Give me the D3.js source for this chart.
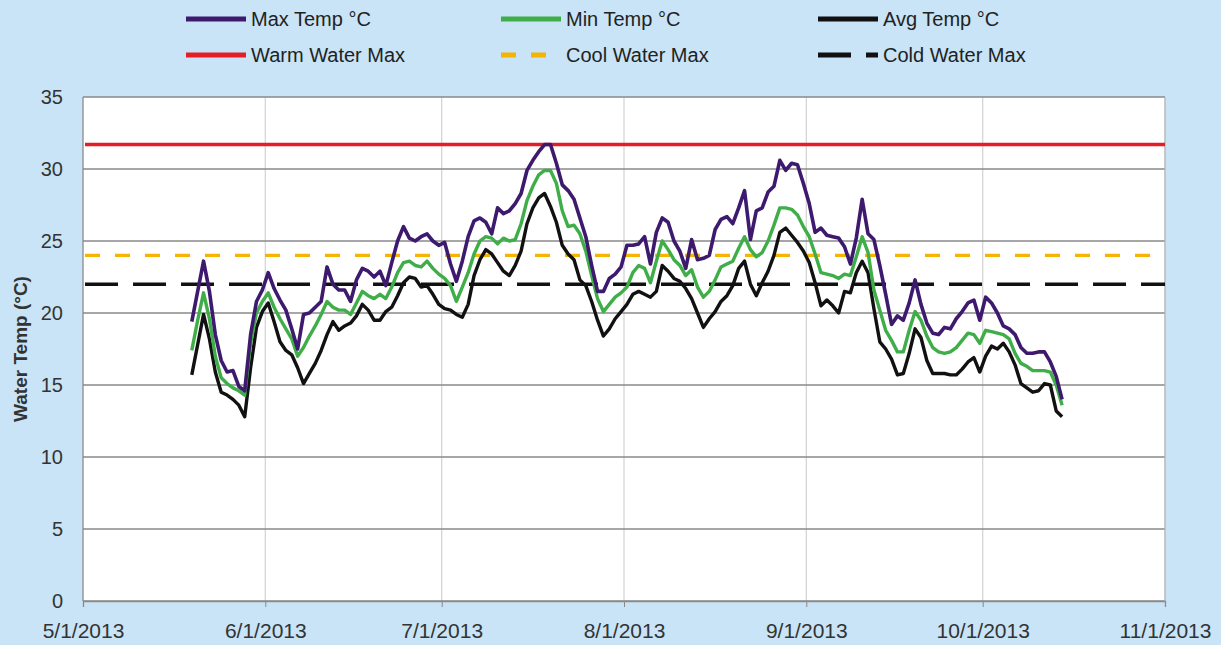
<!DOCTYPE html>
<html><head><meta charset="utf-8">
<script src="https://cdn.jsdelivr.net/npm/d3@7"></script>
<style>
html,body{margin:0;padding:0;background:#c8e4f6;overflow:hidden;}
svg{display:block;font-family:"Liberation Sans",Arial,sans-serif;}
</style>
</head><body>
<svg id="chart" width="1221" height="645"></svg>
<script>
// ---- data ----
const startDate = "2013-05-19"; // first daily reading
const maxTemp = [19.4,21.5,23.6,21.5,18.5,16.7,15.9,16.0,14.9,14.6,18.5,20.8,21.6,22.8,21.7,20.9,20.2,18.9,17.5,19.9,
  20.0,20.4,20.8,23.2,22.0,21.6,21.6,20.8,22.3,23.1,22.9,22.5,22.9,21.9,23.5,25.0,26.0,25.2,25.0,25.3,
  25.5,25.0,24.7,24.9,23.4,22.2,23.6,25.3,26.4,26.6,26.3,25.5,27.3,26.9,27.1,27.6,28.3,29.9,30.6,31.2,
  31.7,31.7,30.4,28.9,28.5,27.9,26.6,25.3,23.3,21.5,21.5,22.4,22.7,23.2,24.7,24.7,24.8,25.3,23.4,25.6,
  26.6,26.3,25.0,24.3,23.1,25.1,23.7,23.8,24.0,25.8,26.5,26.7,26.2,27.3,28.5,25.1,27.1,27.3,28.4,28.8,
  30.6,29.9,30.4,30.3,29.0,27.6,25.6,25.9,25.4,25.3,25.2,24.6,23.4,25.2,27.9,25.5,25.1,23.3,21.3,19.2,
  19.8,19.5,20.7,22.3,20.6,19.3,18.6,18.5,19.0,18.9,19.6,20.1,20.7,20.9,19.5,21.1,20.7,20.0,19.1,18.9,
  18.5,17.6,17.2,17.2,17.3,17.3,16.6,15.6,14.0];
const minTemp = [17.4,19.5,21.4,19.6,17.0,15.5,15.1,14.8,14.6,14.3,17.9,20.0,20.8,21.4,20.4,19.6,18.9,18.2,17.0,17.6,
  18.4,19.1,19.9,20.8,20.4,20.2,20.2,19.9,20.7,21.5,21.2,21.0,21.3,21.0,21.8,22.8,23.5,23.6,23.3,23.2,
  23.6,23.1,22.7,22.4,21.9,20.8,21.8,22.8,24.1,25.0,25.3,25.2,24.8,25.2,25.0,25.1,26.2,27.8,28.8,29.6,
  29.9,29.9,29.0,27.1,26.0,26.1,25.5,24.3,22.6,21.0,20.1,20.6,21.1,21.4,21.8,22.8,23.3,23.1,22.1,23.6,
  25.0,24.4,23.7,23.3,22.6,23.0,21.8,21.1,21.5,22.3,23.2,23.4,23.6,24.5,25.3,24.4,23.9,24.2,25.0,26.1,
  27.3,27.3,27.2,26.8,26.0,25.3,24.1,22.8,22.7,22.6,22.4,22.7,22.6,23.9,25.3,24.2,21.6,20.2,18.8,18.1,
  17.3,17.3,18.8,20.1,19.5,18.4,17.6,17.3,17.2,17.3,17.6,18.1,18.6,18.5,17.9,18.8,18.7,18.6,18.5,18.2,
  17.2,16.5,16.3,16.0,16.0,16.0,15.9,15.0,13.6];
const avgTemp = [15.7,17.8,19.9,18.2,15.9,14.5,14.3,14.0,13.6,12.8,16.2,19.0,20.1,20.7,19.4,18.0,17.4,17.1,16.2,15.1,
  15.8,16.5,17.4,18.5,19.4,18.8,19.1,19.3,19.8,20.6,20.2,19.5,19.5,20.1,20.4,21.2,22.1,22.5,22.4,21.8,
  21.9,21.3,20.6,20.3,20.2,19.9,19.7,20.6,22.6,23.7,24.4,24.1,23.5,22.9,22.6,23.3,24.3,26.2,27.3,28.0,
  28.3,27.4,26.3,24.7,24.1,23.7,22.3,21.9,20.8,19.5,18.4,18.9,19.6,20.1,20.6,21.3,21.5,21.3,21.1,21.5,
  23.3,22.9,22.4,22.2,21.7,21.0,20.0,19.0,19.6,20.1,20.8,21.2,21.9,23.1,23.6,22.0,21.2,22.1,22.9,24.0,
  25.6,25.9,25.4,24.9,24.3,23.5,22.1,20.5,20.9,20.5,20.0,21.5,21.4,22.8,23.6,22.8,20.3,18.0,17.5,16.8,
  15.7,15.8,17.2,18.9,18.3,16.7,15.8,15.8,15.8,15.7,15.7,16.1,16.6,16.9,15.9,17.0,17.7,17.5,17.9,17.3,
  16.4,15.1,14.8,14.5,14.6,15.1,15.0,13.2,12.8];
const thresholdNames = ["Warm Water Max","Cool Water Max","Cold Water Max"];
const thresholdValues = [31.7, 24.0, 22.0];
const yTickValues = [0,5,10,15,20,25,30,35];
const xTickLabels = ["5/1/2013","6/1/2013","7/1/2013","8/1/2013","9/1/2013","10/1/2013","11/1/2013"];
const seriesNames = ["Max Temp °C","Min Temp °C","Avg Temp °C"];

// ---- layout ----
const W = 1221, H = 645;
const plot = {left: 83, right: 1165, top: 97, bottom: 601};
const svg = d3.select("#chart");

const parseMDY = d3.timeParse("%m/%d/%Y");
const tickDates = xTickLabels.map(parseMDY);
const x = d3.scaleTime().domain([tickDates[0], tickDates[tickDates.length-1]]).range([plot.left, plot.right]);
const y = d3.scaleLinear().domain([0, 35]).range([plot.bottom, plot.top]);

const start = d3.timeParse("%Y-%m-%d")(startDate);
const dateAt = i => d3.timeHour.offset(d3.timeDay.offset(start, i), 12);

// plot background
svg.append("rect").attr("x", plot.left).attr("y", plot.top)
  .attr("width", plot.right - plot.left).attr("height", plot.bottom - plot.top)
  .attr("fill", "#ffffff");

// vertical gridlines (months)
svg.append("g").selectAll("line").data(tickDates.slice(1)).join("line")
  .attr("x1", d => x(d)).attr("x2", d => x(d))
  .attr("y1", plot.top).attr("y2", plot.bottom)
  .attr("stroke", "#d2d2d2").attr("stroke-width", 1.2);

// horizontal gridlines
svg.append("g").selectAll("line").data(yTickValues).join("line")
  .attr("x1", plot.left).attr("x2", plot.right)
  .attr("y1", d => y(d)).attr("y2", d => y(d))
  .attr("stroke", "#8a8a8a").attr("stroke-width", 1.3);

// plot border left/right
svg.append("line").attr("x1", plot.left).attr("x2", plot.left).attr("y1", plot.top).attr("y2", plot.bottom)
  .attr("stroke", "#8a8a8a").attr("stroke-width", 1.3);
svg.append("line").attr("x1", plot.right).attr("x2", plot.right).attr("y1", plot.top).attr("y2", plot.bottom)
  .attr("stroke", "#b8b8b8").attr("stroke-width", 1.2);

// axes via d3
const yAxis = d3.axisLeft(y).tickValues(yTickValues).tickSize(0).tickPadding(20);
const gy = svg.append("g").attr("transform", `translate(${plot.left},0)`).call(yAxis);
gy.select(".domain").remove();
gy.selectAll("text").attr("font-size", 20).attr("fill", "#333").attr("font-family", "'Liberation Sans',Arial,sans-serif");

const xAxis = d3.axisBottom(x).tickValues(tickDates).tickSize(6).tickPadding(16)
  .tickFormat((d, i) => xTickLabels[i]);
const gx = svg.append("g").attr("transform", `translate(0,${plot.bottom})`).call(xAxis);
gx.select(".domain").attr("stroke", "#8a8a8a").attr("stroke-width", 1.3);
gx.selectAll(".tick line").attr("stroke", "#8a8a8a");
gx.selectAll("text").attr("font-size", 21).attr("fill", "#333").attr("font-family", "'Liberation Sans',Arial,sans-serif");

// y title
svg.append("text").attr("transform", `translate(27,${(plot.top+plot.bottom)/2}) rotate(-90)`)
  .attr("text-anchor", "middle").attr("font-size", 19).attr("font-weight", "bold").attr("fill", "#333")
  .text("Water Temp (°C)");

// threshold lines
const thrStyles = [
  {color: "#e41e26", width: 3.5, dash: null},
  {color: "#f5b400", width: 3.2, dash: "15,15"},
  {color: "#111111", width: 3.6, dash: "33,15"}
];
thresholdValues.forEach((v, i) => {
  svg.append("line").attr("x1", plot.left + 2).attr("x2", plot.right)
    .attr("y1", y(v)).attr("y2", y(v))
    .attr("stroke", thrStyles[i].color).attr("stroke-width", thrStyles[i].width)
    .attr("stroke-dasharray", thrStyles[i].dash);
});

// data lines
const seriesStyles = [
  {color: "#3d1a6e", width: 3.6},
  {color: "#3fae49", width: 3.4},
  {color: "#111111", width: 3.4}
];
const seriesData = [maxTemp, minTemp, avgTemp];
const line = d3.line().x((d, i) => x(dateAt(i))).y(d => y(d));
// draw avg first, then min, then max on top? reference: max on top of others where overlapping
[2, 1, 0].forEach(k => {
  svg.append("path").datum(seriesData[k]).attr("d", line)
    .attr("fill", "none").attr("stroke", seriesStyles[k].color)
    .attr("stroke-width", seriesStyles[k].width).attr("stroke-linejoin", "round");
});

// legend
const legendItems = [
  {name: seriesNames[0], color: seriesStyles[0].color, dash: null, col: 0, row: 0},
  {name: seriesNames[1], color: seriesStyles[1].color, dash: null, col: 1, row: 0},
  {name: seriesNames[2], color: seriesStyles[2].color, dash: null, col: 2, row: 0},
  {name: thresholdNames[0], color: thrStyles[0].color, dash: null, col: 0, row: 1},
  {name: thresholdNames[1], color: thrStyles[1].color, dash: "15,15", col: 1, row: 1},
  {name: thresholdNames[2], color: thrStyles[2].color, dash: "33,15", col: 2, row: 1}
];
const colX = [186, 501, 818];
const rowY = [19, 55];
const lg = svg.append("g").selectAll("g").data(legendItems).join("g")
  .attr("transform", d => `translate(${colX[d.col]},${rowY[d.row]})`);
lg.append("line").attr("x1", 0).attr("x2", 60).attr("y1", 0).attr("y2", 0)
  .attr("stroke", d => d.color).attr("stroke-width", 5).attr("stroke-dasharray", d => d.dash);
lg.append("text").attr("x", 65).attr("y", 7).attr("font-size", 20).attr("fill", "#222").text(d => d.name);
</script>
</body></html>
